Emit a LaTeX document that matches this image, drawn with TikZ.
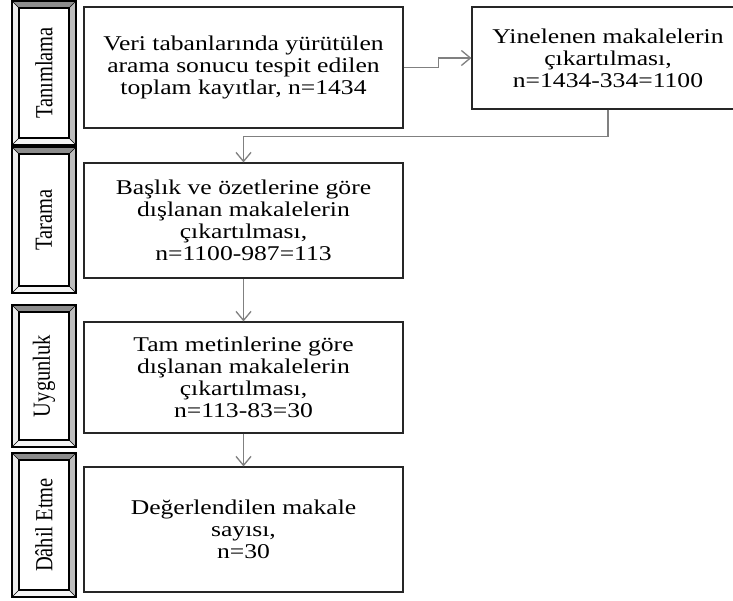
\documentclass[tikz,border=0pt]{standalone}
\usepackage{fontspec}
\setmainfont{Liberation Serif}[FakeStretch=1.22]
\newfontfamily\lblfont{Liberation Serif}
\usetikzlibrary{arrows.meta}
\definecolor{bevtop}{HTML}{8C8C8C}
\definecolor{bevright}{HTML}{BDBDBD}
\definecolor{bevleft}{HTML}{EBEBEB}
\definecolor{bevbottom}{HTML}{F4F4F4}
\definecolor{conngray}{HTML}{808080}
\tikzset{
  flowbox/.style={draw=black!85, line width=1.2pt, fill=white, align=center,
    font=\fontsize{21}{22}\selectfont, inner sep=0pt, minimum width=319pt},
  conn/.style={draw=conngray, line width=1.3pt, -{Straight Barb[length=9pt,width=15pt]}},
  phaselabel/.style={rotate=90, font=\lblfont\fontsize{20.5}{22}\selectfont, inner sep=0pt},
}
\newcommand\bevelbox[6]{%
  \fill[bevtop] (#2,#3) -- (#4,#3) -- (#4-7,#3+7) -- (#2+7,#3+7) -- cycle;
  \fill[bevright] (#4,#3) -- (#4,#5) -- (#4-7,#5-7) -- (#4-7,#3+7) -- cycle;
  \fill[bevbottom] (#4,#5) -- (#2,#5) -- (#2+7,#5-7) -- (#4-7,#5-7) -- cycle;
  \fill[bevleft] (#2,#5) -- (#2,#3) -- (#2+7,#3+7) -- (#2+7,#5-7) -- cycle;
  \draw[line width=0.6pt] (#2,#3) -- (#2+7,#3+7) (#4,#3) -- (#4-7,#3+7)
    (#4,#5) -- (#4-7,#5-7) (#2,#5) -- (#2+7,#5-7);
  \draw[line width=1.2pt, fill=white] (#2+7,#3+7) rectangle (#4-7,#5-7);
  \draw[line width=2.2pt] (#2,#3) rectangle (#4,#5);
  \node[phaselabel] (#1) at ({(#2+#4)/2},{(#3+#5)/2}) {\scalebox{1}[1.2]{#6}};
}
\begin{document}
\begin{tikzpicture}[x=1pt,y=-1pt]
\useasboundingbox (0,0) rectangle (733,600);
\fill[white] (0,0) rectangle (733,600);

\bevelbox{p1}{12}{1}{76}{145}{Tanımlama}
\bevelbox{p2}{12}{147}{76}{293}{Tarama}
\bevelbox{p3}{12}{305}{76}{447}{Uygunluk}
\bevelbox{p4}{12}{453}{76}{597}{Dâhil Etme}

\node[flowbox, minimum height=121pt] (A) at (243.5,67.5)
  {Veri tabanlarında yürütülen\\arama sonucu tespit edilen\\toplam kayıtlar, n=1434};
\node[flowbox, minimum width=272pt, minimum height=102pt] (B) at (608,58)
  {Yinelenen makalelerin\\çıkartılması,\\n=1434-334=1100};
\node[flowbox, minimum height=115pt] (C) at (243.5,220.5)
  {Başlık ve özetlerine göre\\dışlanan makalelerin\\çıkartılması,\\n=1100-987=113};
\node[flowbox, minimum height=111pt] (D) at (243.5,377.5)
  {Tam metinlerine göre\\dışlanan makalelerin\\çıkartılması,\\n=113-83=30};
\node[flowbox, minimum height=125pt] (E) at (243.5,529.5)
  {Değerlendilen makale\\sayısı,\\n=30};

\draw[conn] (A.east) -- ++(35,0) |- (B.west);
\draw[conn] (B.south) -- ++(0,27) -| (C.north);
\draw[conn] (C.south) -- (D.north);
\draw[conn] (D.south) -- (E.north);
\end{tikzpicture}
\end{document}
